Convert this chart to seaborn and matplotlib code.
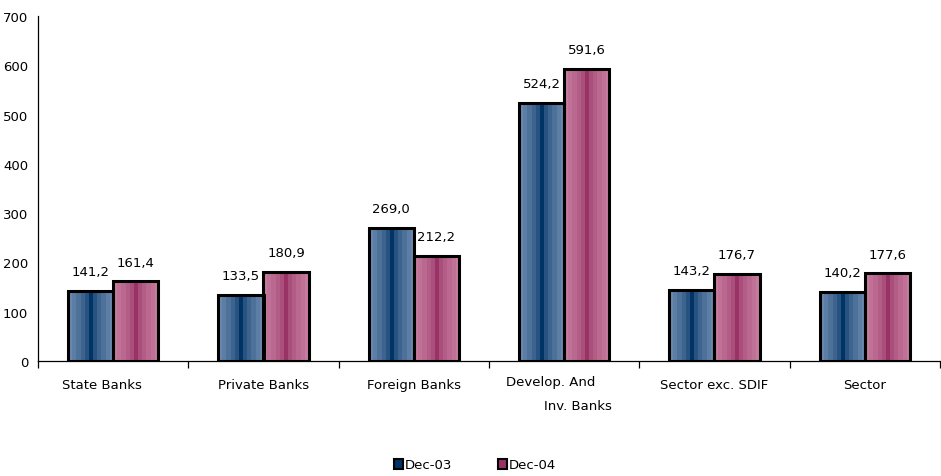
import numpy as np
import pandas as pd
import matplotlib
matplotlib.use("Agg")
import matplotlib.pyplot as plt
from matplotlib.colors import to_rgb
from matplotlib.patches import Patch
import matplotlib.transforms as mtransforms
import seaborn as sns

categories = ["State Banks", "Private Banks", "Foreign Banks",
              "Develop. And Inv. Banks", "Sector exc. SDIF", "Sector"]
dec03 = [141.2, 133.5, 269.0, 524.2, 143.2, 140.2]
dec04 = [161.4, 180.9, 212.2, 591.6, 176.7, 177.6]
series = ["Dec-03", "Dec-04"]
yticks = [0, 100, 200, 300, 400, 500, 600, 700]

df = pd.DataFrame({
    "category": categories * 2,
    "value": dec03 + dec04,
    "period": [series[0]] * len(categories) + [series[1]] * len(categories),
})

# edge / centre colours for the cylinder-style shading
shades = {
    "Dec-03": ("#6a88ae", "#003366"),
    "Dec-04": ("#c67c9e", "#993366"),
}

sns.set_theme(style="white")
plt.rcParams["font.family"] = ["DejaVu Sans"]
plt.rcParams["text.color"] = "black"
plt.rcParams["xtick.color"] = "black"
plt.rcParams["ytick.color"] = "black"

fig = plt.figure(figsize=(9.41, 4.77), dpi=100)
ax = fig.add_axes([38 / 941, 1 - 362 / 477, 902 / 941, 345 / 477])

sns.barplot(data=df, x="category", y="value", hue="period", order=categories,
            hue_order=series, palette=[shades[s][1] for s in series],
            width=0.6, gap=0, edgecolor="black", linewidth=2.2,
            legend=False, ax=ax, saturation=1)


# banded gradient: light edges, narrow dark centre
def banded(edge, centre, n=11):
    e = np.array(to_rgb(edge))
    c = np.array(to_rgb(centre))
    t = np.abs(np.linspace(-1, 1, n)) ** 0.6
    cols = [c + (e - c) * ti for ti in t]
    return np.array(cols)[None, :, :]


n_cat = len(categories)
for i, patch in enumerate(ax.patches[: 2 * n_cat]):
    s = series[i // n_cat]
    x0, y0 = patch.get_x(), patch.get_y()
    w, h = patch.get_width(), patch.get_height()
    img = ax.imshow(banded(*shades[s]), extent=[x0, x0 + w, y0, y0 + h],
                    aspect="auto", interpolation="nearest", zorder=patch.get_zorder())
    img.set_clip_path(patch)
    patch.set_facecolor("none")
    patch.set_zorder(patch.get_zorder() + 0.5)
    ax.annotate(f"{h:.1f}".replace(".", ","), (x0 + w / 2, y0 + h),
                xytext=(0, 14), textcoords="offset points",
                ha="center", va="center", fontsize=9.5, color="black")

ax.set_xlim(-0.5, n_cat - 0.5)
ax.set_ylim(0, 700)

# axes styling
for side in ["top", "right"]:
    ax.spines[side].set_visible(False)
for side in ["left", "bottom"]:
    ax.spines[side].set_color("black")
    ax.spines[side].set_linewidth(0.9)

ax.set_yticks(yticks)
ax.set_yticklabels([str(v) for v in yticks], fontsize=9.5)
ax.tick_params(axis="y", direction="out", length=5, width=0.9, color="black", pad=2)

ax.set_xticks(range(n_cat))
labels = list(categories)
labels[3] = ""
ax.set_xticklabels(labels, fontsize=9.5)
ax.tick_params(axis="x", which="major", length=0, pad=12)
ax.set_xticks(np.arange(-0.5, n_cat, 1.0), minor=True)
ax.tick_params(axis="x", which="minor", direction="out", length=5, width=0.9,
               color="black", bottom=True)

# first label sits a little left of its group
lab0 = ax.get_xticklabels()[0]
lab0.set_transform(lab0.get_transform() +
                   mtransforms.ScaledTranslation(-11 / 100, 0, fig.dpi_scale_trans))

trans = mtransforms.blended_transform_factory(ax.transData, ax.transAxes)
ax.text(3 - 0.087, -0.06, "Develop. And", transform=trans, ha="center",
        va="center", fontsize=9.5)
ax.text(3 + 0.093, -0.13, "Inv. Banks", transform=trans, ha="center",
        va="center", fontsize=9.5)

ax.set_xlabel("")
ax.set_ylabel("")
ax.grid(False)

handles = [Patch(facecolor=shades[s][1], edgecolor="black", linewidth=1.5) for s in series]
fig.legend(handles, series, loc="center", bbox_to_anchor=(475 / 941, 1 - 466 / 477),
           ncol=2, frameon=False, fontsize=9.5, handlelength=0.7, handleheight=0.7,
           handletextpad=0.1, columnspacing=3.5)

fig.savefig("out.png", dpi=100)
